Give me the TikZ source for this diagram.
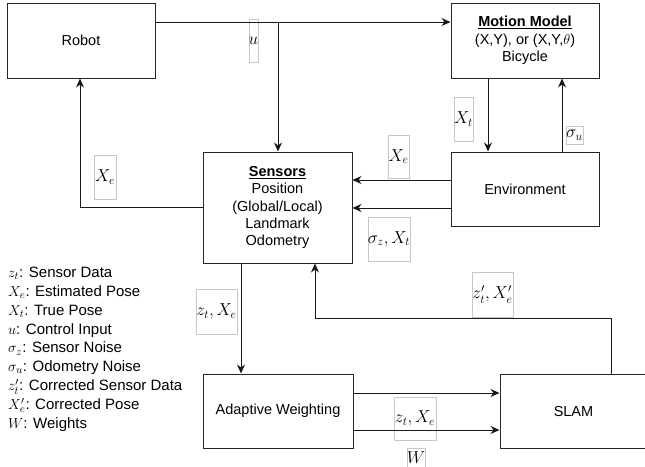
\documentclass[tikz,border=0pt]{standalone}
\usepackage{fontspec}
\setmainfont{Liberation Sans}
\usetikzlibrary{arrows.meta}
\newcommand{\lm}[1]{{\fontsize{16.5}{16.5}\selectfont$#1$}}
\newcommand{\gm}[1]{{\fontsize{15.5}{15.5}\selectfont$#1$}}
\begin{document}
\begin{tikzpicture}[x=1pt,y=-1pt,
  every node/.style={font=\fontsize{14.5}{17.4}\selectfont},
  block/.style={draw=black!85,line width=1pt,rectangle,inner sep=0pt,align=center},
  conn/.style={draw=black!90,line width=1pt},
  arr/.style={conn,-{Stealth[length=9pt,width=8pt]}},
  lbox/.style={draw=black!22,line width=0.5pt},
  ltext/.style={inner sep=0pt}
]
\clip (0,0) rectangle (645,466);
\useasboundingbox (0,0) rectangle (645,466);
\fill[white] (0,0) rectangle (645,466);

% blocks
\node[block,minimum width=148pt,minimum height=75pt] (robot) at (81,40.5) {Robot};
\node[block,minimum width=148pt,minimum height=75pt] (motion) at (525,40.5)
  {\underline{\textbf{Motion Model}}\\(X,Y), or (X,Y,$\theta$)\\Bicycle};
\node[block,minimum width=148pt,minimum height=74pt] (env) at (525,189) {Environment};
\node[block,minimum width=149pt,minimum height=111pt] (sensors) at (277.5,207.5)
  {\underline{\textbf{Sensors}}\\Position\\(Global/Local)\\Landmark\\Odometry};
\node[block,minimum width=150pt,minimum height=74pt] (adapt) at (278,411) {Adaptive Weighting};
\node[block,minimum width=147pt,minimum height=74pt] (slam) at (573.5,411.5) {SLAM};

% coordinates
\coordinate (ujoin) at (278,22);
\coordinate (fb) at (315,318);

% label boxes
\draw[lbox] (249,19) rectangle (258,62);
\node[ltext] (lu) at (253.5,41) {\lm{u}};
\draw[lbox] (454,97) rectangle (473,141);
\node[ltext] (lxt) at (463.5,119) {\lm{X_t}};
\draw[lbox] (566,126) rectangle (583,144);
\node[ltext] (lsu) at (574.5,135) {\lm{\sigma_u}};
\draw[lbox] (388,135) rectangle (409,178);
\node[ltext] (lxe1) at (398.5,156.5) {\lm{X_e}};
\draw[lbox] (368,217) rectangle (410,261);
\node[ltext] (lszxt) at (389,239) {\lm{\sigma_z,X_t}};
\draw[lbox] (94,155) rectangle (116,199);
\node[ltext] (lxe2) at (105,177) {\lm{X_e}};
\draw[lbox] (196,289) rectangle (237,334);
\node[ltext] (lzx1) at (216.5,311.5) {\lm{z_t,X_e}};
\draw[lbox] (472,272) rectangle (513,317);
\node[ltext] (lzxp) at (492.5,294.5) {\lm{z'_t,X'_e}};
\draw[lbox] (394,397) rectangle (436,440);
\node[ltext] (lzx2) at (415,418.5) {\lm{z_t,X_e}};
\draw[lbox] (407,448) rectangle (425,470);
\node[ltext] (lw) at (416,458) {\lm{W}};

% connectors
\draw[arr] (robot.east |- ujoin) -- (motion.west |- ujoin);
\draw[arr] (ujoin) -- (ujoin |- sensors.north);
\draw[arr] ([xshift=-37pt]motion.south) -- ([xshift=-37pt]env.north);
\draw[arr] ([xshift=37pt]env.north) -- ([xshift=37pt]motion.south);
\draw[arr] ([yshift=9pt]env.west) -- ([yshift=9pt]env.west -| sensors.east);
\draw[arr] ([yshift=-19pt]env.west) -- ([yshift=-19pt]env.west -| sensors.east);
\draw[arr] (sensors.west) -| ([xshift=-1pt]robot.south);
\draw[arr] ([xshift=-36.5pt]sensors.south) -- ([xshift=-36.5pt]sensors.south |- adapt.north);
\draw[arr] ([yshift=18pt]adapt.east) -- ([yshift=18pt]adapt.east -| slam.west);
\draw[arr] ([yshift=-19pt]adapt.east) -- ([yshift=-19pt]adapt.east -| slam.west);
\draw[arr] ([xshift=37.5pt]slam.north) |- (fb) -- (fb |- sensors.south);

% legend
\node[anchor=north west,inner sep=0pt,align=left,font=\fontsize{15}{18.8}\selectfont] (legend) at (8,267)
  {\gm{z_t}: Sensor Data\\
   \gm{X_e}: Estimated Pose\\
   \gm{X_t}: True Pose\\
   \gm{u}: Control Input\\
   \gm{\sigma_z}: Sensor Noise\\
   \gm{\sigma_u}: Odometry Noise\\
   \gm{z'_t}: Corrected Sensor Data\\
   \gm{X'_e}: Corrected Pose\\
   \gm{W}: Weights};
\end{tikzpicture}
\end{document}
